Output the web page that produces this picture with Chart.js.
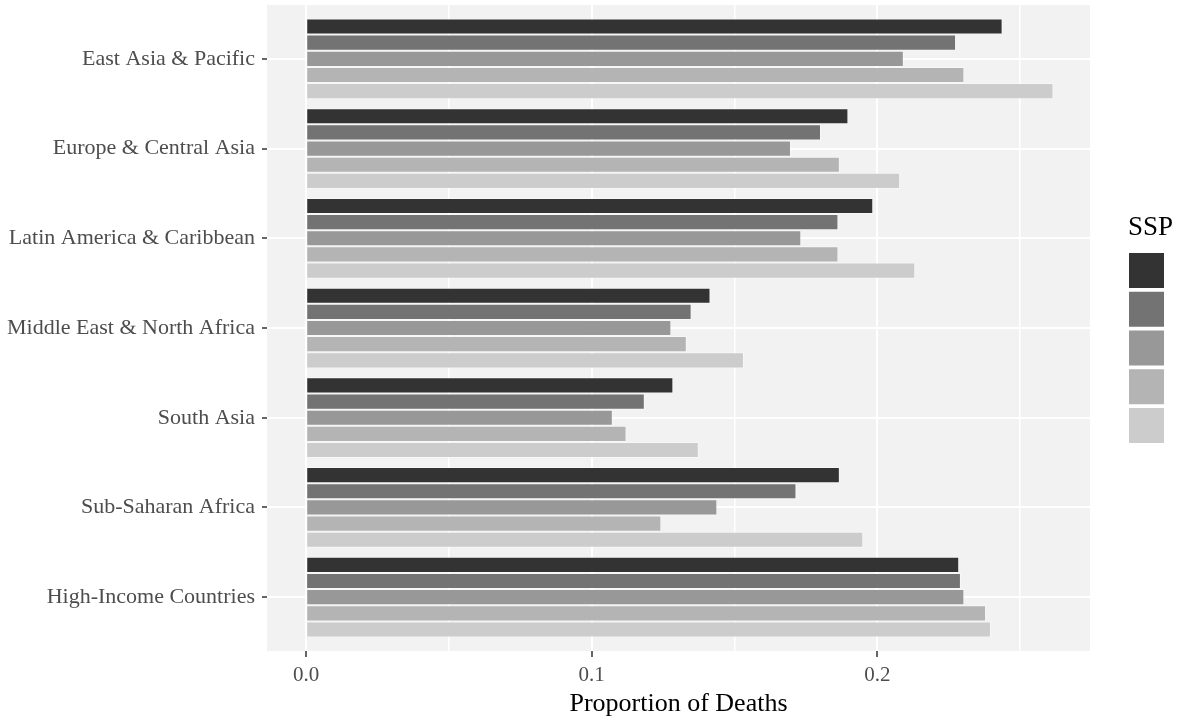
<!DOCTYPE html>
<html>
<head>
<meta charset="utf-8">
<title>Proportion of Deaths by Region and SSP</title>
<script src="https://cdn.jsdelivr.net/npm/chart.js@4.4.1/dist/chart.umd.min.js"></script>
<style>
  html, body { margin: 0; padding: 0; background: #fff; overflow: hidden; }
  canvas { display: block; }
</style>
</head>
<body>
<canvas id="barChart" width="1180" height="721"></canvas>
<script>
// regions, top to bottom
const regions = [
  "East Asia & Pacific",
  "Europe & Central Asia",
  "Latin America & Caribbean",
  "Middle East & North Africa",
  "South Asia",
  "Sub-Saharan Africa",
  "High-Income Countries"
];

// proportion of deaths per SSP scenario (same order as regions)
const ssp1 = [0.2439, 0.1899, 0.1986, 0.1416, 0.1286, 0.1869, 0.2287];
const ssp2 = [0.2276, 0.1803, 0.1864, 0.1350, 0.1186, 0.1717, 0.2293];
const ssp3 = [0.2093, 0.1698, 0.1734, 0.1279, 0.1074, 0.1440, 0.2305];
const ssp4 = [0.2305, 0.1869, 0.1864, 0.1333, 0.1122, 0.1244, 0.2381];
const ssp5 = [0.2617, 0.2080, 0.2133, 0.1533, 0.1375, 0.1951, 0.2398];

const sspNames = ["SSP1", "SSP2", "SSP3", "SSP4", "SSP5"];
const sspColors = ["#333333", "#737373", "#989898", "#b4b4b4", "#cccccc"];

const xTickValues = [0, 0.1, 0.2];
const xTickLabels = ["0.0", "0.1", "0.2"];

const serif = "'Liberation Serif', 'Times New Roman', serif";

function isMajor(v) {
  return xTickValues.some(t => Math.abs(t - v) < 1e-9);
}

const series = [ssp1, ssp2, ssp3, ssp4, ssp5];
const datasets = series.map((vals, k) => ({
  label: sspNames[k],
  data: vals.map((v, i) => ({ x: v, y: i })),
  backgroundColor: sspColors[k],
  borderColor: "rgba(255,255,255,0.4)",
  borderWidth: 1,
  categoryPercentage: 0.9,
  barPercentage: 1.0
}));

// ggplot-like grey panel
const panelBg = {
  id: "panelBg",
  beforeDraw(chart) {
    const { ctx, chartArea: a } = chart;
    ctx.save();
    ctx.fillStyle = "#f2f2f2";
    ctx.fillRect(a.left, a.top, a.right - a.left, a.bottom - a.top);
    ctx.restore();
  }
};

// legend on the right, labels run off the edge like the original
const sideLegend = {
  id: "sideLegend",
  afterDraw(chart) {
    const ctx = chart.ctx;
    ctx.save();
    ctx.fillStyle = "#000";
    ctx.font = "27px " + serif;
    ctx.textBaseline = "alphabetic";
    ctx.fillText("SSP", 1128, 235);
    chart.data.datasets.forEach((ds, i) => {
      const y = 253 + i * 38.75;
      ctx.fillStyle = ds.backgroundColor;
      ctx.fillRect(1129, y, 35, 35);
      ctx.fillStyle = "#1a1a1a";
      ctx.font = "21px " + serif;
      ctx.textBaseline = "middle";
      ctx.fillText(ds.label, 1179, y + 17.5);
    });
    ctx.restore();
  }
};

new Chart(document.getElementById("barChart"), {
  type: "bar",
  data: { datasets },
  options: {
    indexAxis: "y",
    responsive: false,
    devicePixelRatio: 1,
    animation: false,
    layout: { padding: { left: 0, right: 90, top: 5, bottom: 0 } },
    plugins: {
      legend: { display: false },
      tooltip: { enabled: false }
    },
    scales: {
      y: {
        type: "linear",
        reverse: true,
        offset: false,
        min: -0.6,
        max: 6.6,
        afterFit(scale) {
          scale.width = 267;
          scale.paddingTop = 0;
          scale.paddingBottom = 0;
        },
        border: { display: false },
        grid: {
          offset: false,
          color: "#ffffff",
          lineWidth: 2,
          tickColor: "#333333",
          tickLength: 5,
          tickWidth: 1.5
        },
        ticks: {
          stepSize: 1,
          includeBounds: false,
          autoSkip: false,
          padding: 7,
          color: "#4d4d4d",
          font: { family: serif, size: 22 },
          callback: v => regions[v] ?? ""
        }
      },
      x: {
        type: "linear",
        offset: false,
        min: -0.0137,
        max: 0.2745,
        afterFit(scale) {
          scale.height = 70;
          scale.paddingLeft = 0;
          scale.paddingRight = 0;
        },
        border: { display: false },
        grid: {
          offset: false,
          color: "#ffffff",
          lineWidth: ctx => (isMajor(ctx.tick.value) ? 2 : 1.5),
          tickColor: ctx => (isMajor(ctx.tick.value) ? "#333333" : "rgba(0,0,0,0)"),
          tickLength: 6,
          tickWidth: 1.5
        },
        ticks: {
          stepSize: 0.05,
          includeBounds: false,
          autoSkip: false,
          maxRotation: 0,
          padding: 6,
          color: "#4d4d4d",
          font: { family: serif, size: 21 },
          callback: v => {
            const i = xTickValues.findIndex(t => Math.abs(t - v) < 1e-9);
            return i >= 0 ? xTickLabels[i] : "";
          }
        },
        title: {
          display: true,
          text: "Proportion of Deaths",
          color: "#000000",
          font: { family: serif, size: 26 },
          padding: { top: 0, bottom: 1 }
        }
      }
    }
  },
  plugins: [panelBg, sideLegend]
});
</script>
</body>
</html>
